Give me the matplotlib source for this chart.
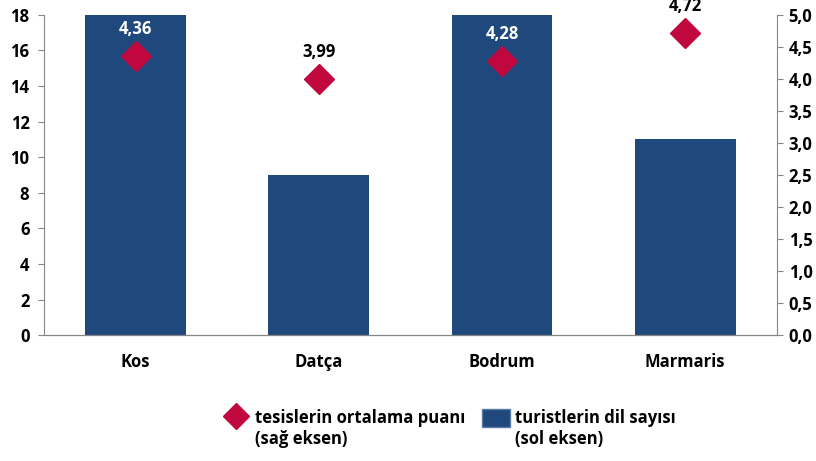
import matplotlib.pyplot as plt
from matplotlib.lines import Line2D
from matplotlib.patches import Patch
from matplotlib.ticker import FuncFormatter, MultipleLocator

plt.rcParams['font.family'] = ['Open Sans', 'DejaVu Sans']
plt.rcParams['font.weight'] = 'bold'

# --- Data ---
places = ['Kos', 'Datça', 'Bodrum', 'Marmaris']
languages = [18, 9, 18, 11]          # left axis
scores = [4.36, 3.99, 4.28, 4.72]    # right axis
label_colors = ['white', 'black', 'white', 'black']

BAR_COLOR = '#1F497D'
MARK_COLOR = '#C0083F'
AXIS_COLOR = '#868686'

fig = plt.figure(figsize=(8.16, 4.61), dpi=100)
ax = fig.add_axes([0.054, 0.273, 0.898, 0.695])
ax2 = ax.twinx()

x = range(len(places))
ax.bar(x, languages, width=0.55, color=BAR_COLOR, zorder=1)
ax.set_xlim(-0.5, len(places) - 0.5)
ax.set_ylim(0, 18)
ax.yaxis.set_major_locator(MultipleLocator(2))

ax2.plot(x, scores, linestyle='none', marker='D', markersize=15,
         color=MARK_COLOR, zorder=3)
ax2.set_ylim(0, 5)
ax2.yaxis.set_major_locator(MultipleLocator(0.5))
ax2.yaxis.set_major_formatter(FuncFormatter(lambda v, p: f'{v:.1f}'.replace('.', ',')))

# value labels above the diamonds
for xi, s, c in zip(x, scores, label_colors):
    ax2.annotate(f'{s:.2f}'.replace('.', ','), (xi, s), xytext=(0, 13),
                 textcoords='offset points', ha='center', va='bottom',
                 fontsize=12, fontweight='bold', color=c)

ax.set_xticks(list(x))
ax.set_xticklabels(places, fontsize=12, fontweight='bold')
ax.tick_params(axis='x', length=0, pad=13)
ax.tick_params(axis='y', labelsize=12, color=AXIS_COLOR, length=4.5, pad=6)
ax2.tick_params(axis='y', labelsize=12, color=AXIS_COLOR, length=4.5, pad=4)

for a in (ax, ax2):
    a.spines['top'].set_visible(False)
    for s in ('left', 'right', 'bottom'):
        a.spines[s].set_color(AXIS_COLOR)
ax.spines['right'].set_visible(False)
ax2.spines['left'].set_visible(False)

# legend: handles sit beside the first line, second line written underneath
handles = [
    Line2D([], [], linestyle='none', marker='D', markersize=13, color=MARK_COLOR),
    Patch(facecolor=BAR_COLOR, edgecolor='#5A7BA8'),
]
labels = ['tesislerin ortalama puanı', 'turistlerin dil sayısı']
second = ['(sağ eksen)', '(sol eksen)']
leg = fig.legend(handles, labels, loc='center left', bbox_to_anchor=(0.272, 0.093),
                 ncol=2, frameon=False, prop={'size': 12, 'weight': 'bold'},
                 handlelength=1.67, handleheight=1.25, handletextpad=0.3,
                 columnspacing=1.0, borderpad=0, borderaxespad=0)
fig.canvas.draw()
inv = fig.transFigure.inverted()
for t, extra in zip(leg.get_texts(), second):
    bb = t.get_window_extent()
    x0, y0 = inv.transform((bb.x0, bb.y0))
    fig.text(x0, y0 - 0.006, extra, ha='left', va='top', fontsize=12, fontweight='bold')

fig.savefig('out.png', dpi=100)
